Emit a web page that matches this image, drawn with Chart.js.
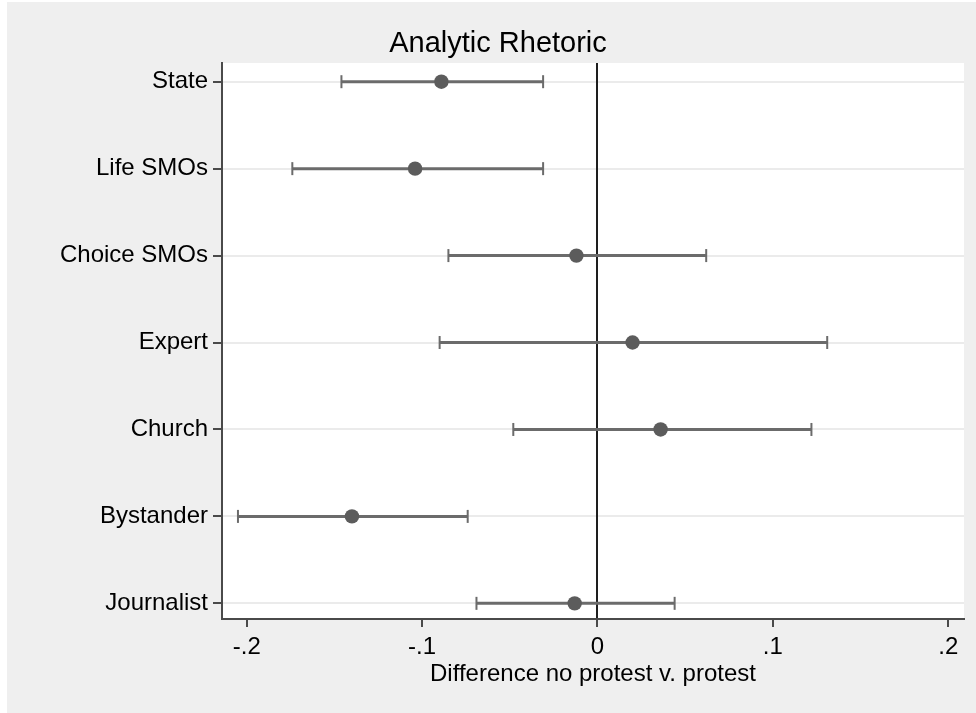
<!DOCTYPE html>
<html>
<head>
<meta charset="utf-8">
<title>Analytic Rhetoric</title>
<script src="https://cdn.jsdelivr.net/npm/chart.js@4/dist/chart.umd.min.js"></script>
<style>
  html, body { margin: 0; padding: 0; background: #ffffff; }
  #panel { position: absolute; left: 7px; top: 2px; width: 969px; height: 711px; background: #efefef; }
  #chart { display: block; }
</style>
</head>
<body>
<div id="panel"><canvas id="chart" width="969" height="711"></canvas></div>
<script>
// Coefficient estimates with confidence intervals, one row per speaker type
const categories = ['State', 'Life SMOs', 'Choice SMOs', 'Expert', 'Church', 'Bystander', 'Journalist'];
const estimate   = [-0.089, -0.104, -0.012, 0.020, 0.036, -0.140, -0.013];
const lower      = [-0.146, -0.174, -0.085, -0.090, -0.048, -0.205, -0.069];
const upper      = [-0.031, -0.031, 0.062, 0.131, 0.122, -0.074, 0.044];
const xTickValues = [-0.2, -0.1, 0, 0.1, 0.2];
const xTickLabels = ['-.2', '-.1', '0', '.1', '.2'];
const chartTitle = 'Analytic Rhetoric';

const FONT = '"Liberation Sans", Arial, Helvetica, sans-serif';

// White plotting region inside the grey graph background
const plotBackground = {
  id: 'plotBackground',
  beforeDraw(chart) {
    const { ctx, chartArea: a } = chart;
    ctx.save();
    ctx.fillStyle = '#ffffff';
    ctx.fillRect(a.left, a.top, a.right - a.left, a.bottom - a.top);
    ctx.restore();
  }
};

// Graph title, centred on the whole graph region rather than the plot
const graphTitle = {
  id: 'graphTitle',
  afterDraw(chart) {
    const { ctx } = chart;
    ctx.save();
    ctx.fillStyle = '#000000';
    ctx.font = '29px ' + FONT;
    ctx.textAlign = 'center';
    ctx.textBaseline = 'middle';
    ctx.fillText(chartTitle, 491, 42);
    ctx.restore();
  }
};

// Interval lines with vertical caps at each end
const intervalSets = categories.map((c, i) => ({
  type: 'line',
  label: c + ' CI',
  data: [{ x: lower[i], y: i }, { x: upper[i], y: i }],
  borderColor: '#6b6b6b',
  borderWidth: 3,
  pointStyle: 'line',
  pointRotation: 90,
  pointRadius: 6.5,
  pointBorderColor: '#6b6b6b',
  pointBorderWidth: 2,
  fill: false,
  order: 2
}));

const pointSet = {
  type: 'scatter',
  label: 'Estimate',
  data: categories.map((c, i) => ({ x: estimate[i], y: i })),
  backgroundColor: '#5c5c5c',
  borderColor: '#5c5c5c',
  pointRadius: 7.2,
  borderWidth: 0,
  order: 1
};

new Chart(document.getElementById('chart'), {
  type: 'scatter',
  data: { datasets: [...intervalSets, pointSet] },
  options: {
    responsive: false,
    devicePixelRatio: 1,
    animation: false,
    events: [],
    layout: { padding: { left: 0, right: 12, top: 61, bottom: 0 } },
    plugins: {
      legend: { display: false },
      tooltip: { enabled: false },
      title: { display: false }
    },
    scales: {
      x: {
        type: 'linear',
        min: -0.2141,
        max: 0.2090,
        afterBuildTicks(scale) { scale.ticks = xTickValues.map(v => ({ value: v })); },
        afterFit(scale) { scale.height = 94; },
        ticks: {
          color: '#000000',
          font: { family: FONT, size: 24 },
          padding: 6,
          maxRotation: 0,
          autoSkip: false,
          callback(value) {
            const k = xTickValues.findIndex(v => Math.abs(v - value) < 1e-9);
            return k >= 0 ? xTickLabels[k] : '';
          }
        },
        grid: {
          z: -1,
          color: ctx => (ctx.tick && Math.abs(ctx.tick.value) < 1e-9) ? '#1e1e1e' : 'rgba(0,0,0,0)',
          lineWidth: 2,
          drawTicks: true,
          tickLength: 8,
          tickColor: '#4a4a4a',
          tickWidth: 2
        },
        border: { display: true, color: '#4a4a4a', width: 2 },
        title: {
          display: true,
          text: 'Difference no protest v. protest',
          color: '#000000',
          font: { family: FONT, size: 24 },
          padding: { top: 0, bottom: 24 }
        }
      },
      y: {
        type: 'linear',
        reverse: true,
        min: -0.215,
        max: 6.18,
        afterBuildTicks(scale) { scale.ticks = categories.map((c, i) => ({ value: i })); },
        afterFit(scale) { scale.width = 215; },
        ticks: {
          color: '#000000',
          font: { family: FONT, size: 24 },
          padding: 5,
          autoSkip: false,
          callback(value) { return categories[Math.round(value)] ?? ''; }
        },
        grid: {
          z: -2,
          color: '#ebebeb',
          lineWidth: 2,
          drawTicks: true,
          tickLength: 9,
          tickColor: '#4a4a4a',
          tickWidth: 2
        },
        border: { display: true, color: '#4a4a4a', width: 2 }
      }
    }
  },
  plugins: [plotBackground, graphTitle]
});
</script>
</body>
</html>
